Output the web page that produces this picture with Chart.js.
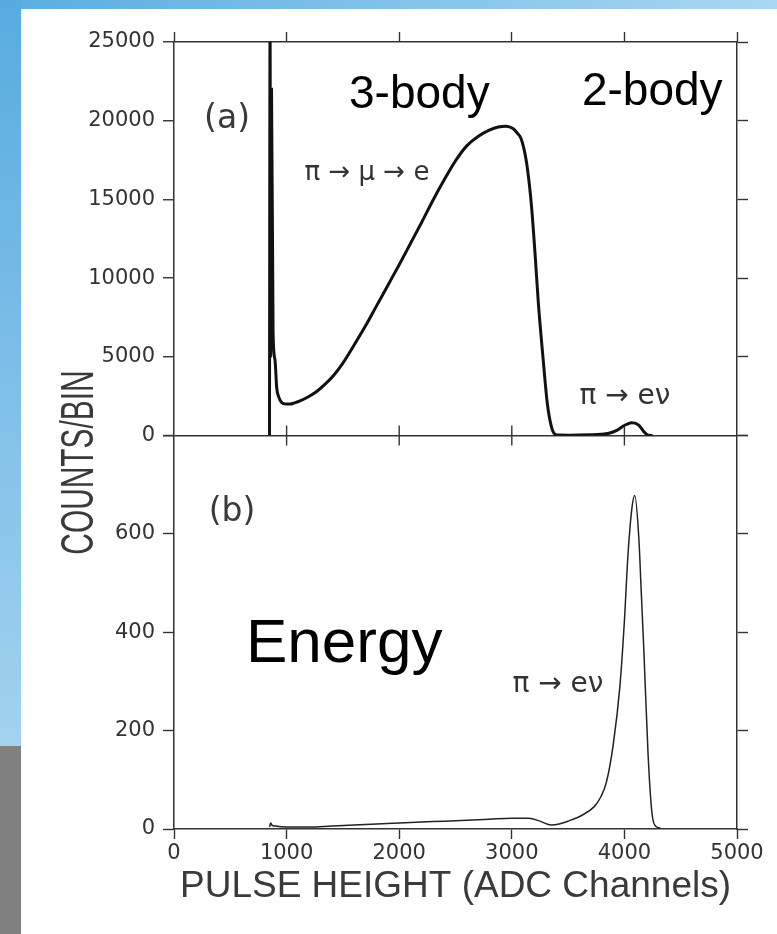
<!DOCTYPE html>
<html><head><meta charset="utf-8">
<script src="https://cdn.jsdelivr.net/npm/chart.js@4.4.1/dist/chart.umd.min.js"></script>
<style>
html,body{margin:0;padding:0;background:#fff;}
body{width:777px;height:934px;position:relative;overflow:hidden;}
#topbar{position:absolute;left:0;top:0;width:777px;height:9px;background:linear-gradient(to right,#5aade1,#a9d7f3);}
#leftbar{position:absolute;left:0;top:0;width:21px;height:746px;background:linear-gradient(to bottom,#58abe0,#a3d2f0);}
#graybar{position:absolute;left:0;top:746px;width:21px;height:188px;background:#808080;}
#wrap{position:absolute;left:21px;top:6px;width:756px;height:928px;}
</style></head><body>
<div id="topbar"></div><div id="leftbar"></div><div id="graybar"></div>
<div id="wrap"><canvas id="c" width="756" height="928"></canvas></div>
<script>
// ---- data ----
const channelsA = [848, 853, 858, 866, 880, 897, 912, 930, 956, 990, 1030, 1070, 1119, 1190, 1267, 1340, 1415, 1500, 1600, 1700, 1800, 1900, 2000, 2100, 2200, 2300, 2400, 2500, 2600, 2700, 2800, 2880, 2950, 3010, 3050, 3080, 3105, 3132, 3155, 3176, 3206, 3236, 3274, 3316, 3354, 3384, 3420, 3500, 3600, 3700, 3790, 3853, 3932, 3991, 4030, 4065, 4095, 4124, 4148, 4168, 4192, 4213, 4250];
const countsA   = [0, 26000, 5000, 22000, 6500, 4800, 3050, 2450, 2090, 2000, 2000, 2070, 2200, 2450, 2800, 3250, 3800, 4600, 5750, 6950, 8250, 9550, 10850, 12200, 13550, 14950, 16250, 17450, 18400, 19000, 19400, 19600, 19650, 19500, 19200, 18900, 18300, 17300, 16000, 14500, 11600, 8400, 5200, 2000, 500, 80, 25, 15, 25, 45, 75, 125, 330, 600, 740, 815, 790, 670, 480, 290, 110, 10, 0];
const channelsB = [850, 858, 870, 900, 1000, 1200, 1400, 1600, 1800, 2000, 2200, 2400, 2600, 2800, 3000, 3150, 3250, 3350, 3420, 3500, 3623, 3730, 3790, 3840, 3900, 3960, 4000, 4032, 4067, 4092, 4128, 4150, 4174, 4210, 4245, 4281, 4320];
const countsB   = [4, 12, 8, 6, 4, 4, 6, 8, 10, 12, 14, 16, 18, 20, 22, 22, 16, 8, 10, 16, 28, 45, 65, 95, 170, 290, 423, 558, 653, 678, 592, 480, 356, 153, 32, 5, 2];
const xTicks  = [0, 1000, 2000, 3000, 4000, 5000];
const yTicksA = [0, 5000, 10000, 15000, 20000, 25000];
const yTicksB = [0, 200, 400, 600, 800];

// ---- annotations (data coordinates) ----
const notes = [
  {text:'(a)', x:471, y:20090, panel:'a', font:"33px 'DejaVu Sans'", align:'center', base:'middle', color:'#3a3a3a'},
  {text:'(b)', x:515, y:644, panel:'b', font:"33px 'DejaVu Sans'", align:'center', base:'middle', color:'#3a3a3a'},
  {text:'π → μ → e', x:1714, y:16650, panel:'a', font:"26px 'DejaVu Sans'", align:'center', base:'middle', color:'#333'},
  {text:'π → eν', x:4005, y:2450, panel:'a', font:"28px 'DejaVu Sans'", align:'center', base:'middle', color:'#333'},
  {text:'π → eν', x:3410, y:294, panel:'b', font:"28px 'DejaVu Sans'", align:'center', base:'middle', color:'#333'},
  {text:'3-body', x:1554, y:20795, panel:'a', font:"46px 'Liberation Sans'", align:'left', base:'alphabetic', color:'#000'},
  {text:'2-body', x:3623, y:20986, panel:'a', font:"46px 'Liberation Sans'", align:'left', base:'alphabetic', color:'#000'},
  {text:'Energy', x:639, y:340, panel:'b', font:"62px 'Liberation Sans'", align:'left', base:'alphabetic', color:'#000'}
];

const AX = '#333';
const tickFont = {family: "'DejaVu Sans', sans-serif", size: 21};

const decor = {
  id: 'decor',
  afterDraw(chart) {
    const {ctx} = chart;
    const x = chart.scales.x, yA = chart.scales.yA, yB = chart.scales.yB;
    ctx.save();
    // crossing ticks on the shared middle axis
    ctx.strokeStyle = AX; ctx.lineWidth = 1.4;
    const ym = yA.bottom;
    xTicks.forEach(v => {
      if (v > 0 && v < 5000) {
        const px = x.getPixelForValue(v);
        ctx.beginPath(); ctx.moveTo(px, ym - 10); ctx.lineTo(px, ym + 10); ctx.stroke();
      }
    });
    notes.forEach(n => {
      const sc = n.panel === 'a' ? yA : yB;
      ctx.font = n.font; ctx.fillStyle = n.color;
      ctx.textAlign = n.align; ctx.textBaseline = n.base;
      ctx.fillText(n.text, x.getPixelForValue(n.x), sc.getPixelForValue(n.y));
    });
    // y axis title
    ctx.translate(chart.chartArea.left - 94, yA.bottom + 27);
    ctx.rotate(-Math.PI / 2);
    ctx.scale(0.65, 1);
    ctx.font = "46px 'Liberation Sans'";
    ctx.fillStyle = '#3a3a3a';
    ctx.textAlign = 'center'; ctx.textBaseline = 'middle';
    ctx.fillText('COUNTS/BIN', 0, 0);
    ctx.restore();
  }
};

function setTicks(arr) { return s => { s.ticks = arr.map(v => ({value: v})); }; }

new Chart(document.getElementById('c'), {
  type: 'line',
  data: {
    datasets: [
      {data: channelsA.map((v, i) => ({x: v, y: countsA[i]})), xAxisID: 'x', yAxisID: 'yA',
       borderColor: '#111', borderWidth: 3, pointRadius: 0, fill: false, cubicInterpolationMode: 'monotone'},
      {data: channelsB.map((v, i) => ({x: v, y: countsB[i]})), xAxisID: 'x', yAxisID: 'yB',
       borderColor: '#222', borderWidth: 1.5, pointRadius: 0, fill: false, cubicInterpolationMode: 'monotone'}
    ]
  },
  options: {
    responsive: false, animation: false, devicePixelRatio: 1,
    layout: {padding: 0},
    plugins: {legend: {display: false}, tooltip: {enabled: false}},
    scales: {
      x: {type: 'linear', position: 'bottom', min: 0, max: 5000, afterBuildTicks: setTicks(xTicks),
          ticks: {font: tickFont, color: AX, padding: 2, callback: v => String(v), maxRotation: 0},
          grid: {drawOnChartArea: false, tickLength: 10, tickColor: AX, tickWidth: 1.4},
          border: {color: AX, width: 1.5},
          title: {display: true, text: 'PULSE HEIGHT (ADC Channels)', color: '#3a3a3a',
                  font: {family: "'Liberation Sans', sans-serif", size: 37}, padding: {top: 0, bottom: 25}},
          afterFit: s => { s.height = 105; }},
      xt: {type: 'linear', position: 'top', min: 0, max: 5000, afterBuildTicks: setTicks(xTicks),
          ticks: {display: false},
          grid: {drawOnChartArea: false, tickLength: 10, tickColor: AX, tickWidth: 1.4},
          border: {color: AX, width: 1.5},
          afterFit: s => { s.height = 36; }},
      yA: {type: 'linear', position: 'left', stack: 'L', stackWeight: 1, weight: 2, min: 0, max: 25000,
           afterBuildTicks: setTicks(yTicksA),
           ticks: {font: tickFont, color: AX, padding: 8, callback: v => String(v)},
           grid: {drawOnChartArea: true, color: c => (c.tick && c.tick.value === 0) ? AX : 'rgba(0,0,0,0)',
                  lineWidth: 1.5, tickLength: 11, tickColor: AX, tickWidth: 1.4},
           border: {color: AX, width: 1.5},
           afterFit: s => { s.width = 153; }},
      yB: {type: 'linear', position: 'left', stack: 'L', stackWeight: 1, weight: 1, min: 0, max: 800,
           afterBuildTicks: setTicks(yTicksB),
           ticks: {font: tickFont, color: AX, padding: 8, callback: v => v === 800 ? '' : String(v)},
           grid: {drawOnChartArea: false, tickLength: 11, tickColor: AX, tickWidth: 1.4},
           border: {color: AX, width: 1.5},
           afterFit: s => { s.width = 153; }},
      rA: {type: 'linear', position: 'right', stack: 'R', stackWeight: 1, weight: 1, min: 0, max: 25000,
           afterBuildTicks: setTicks(yTicksA), ticks: {display: false},
           grid: {drawOnChartArea: false, tickLength: 11, tickColor: AX, tickWidth: 1.4},
           border: {color: AX, width: 1.5},
           afterFit: s => { s.width = 40; }},
      rB: {type: 'linear', position: 'right', stack: 'R', stackWeight: 1, weight: 2, min: 0, max: 800,
           afterBuildTicks: setTicks(yTicksB), ticks: {display: false},
           grid: {drawOnChartArea: false, tickLength: 11, tickColor: AX, tickWidth: 1.4},
           border: {color: AX, width: 1.5},
           afterFit: s => { s.width = 40; }}
    }
  },
  plugins: [decor]
});
</script>
</body></html>
